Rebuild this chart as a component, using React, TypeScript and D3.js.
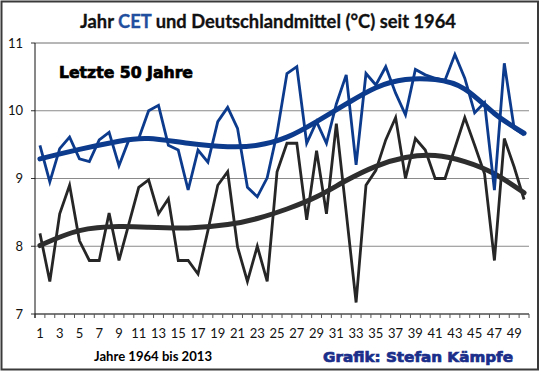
import React from "react";
import * as d3 from "d3";

// Jahre 1964 bis 2013 als laufende Nummer 1..50
const years = [
  1, 2, 3, 4, 5, 6, 7, 8, 9, 10, 11, 12, 13, 14, 15, 16, 17, 18, 19, 20, 21, 22, 23, 24, 25,
  26, 27, 28, 29, 30, 31, 32, 33, 34, 35, 36, 37, 38, 39, 40, 41, 42, 43, 44, 45, 46, 47, 48, 49, 50,
];

// Jahresmittel CET (°C)
const cet = [
  9.49, 8.95, 9.44, 9.61, 9.29, 9.25, 9.57, 9.68, 9.19, 9.57, 9.59, 10.0, 10.08, 9.49, 9.42,
  8.83, 9.42, 9.24, 9.84, 10.05, 9.74, 8.87, 8.73, 9.01, 9.67, 10.55, 10.65, 9.52, 9.84, 9.52,
  10.1, 10.53, 9.2, 10.55, 10.38, 10.65, 10.26, 9.94, 10.61, 10.53, 10.48, 10.45, 10.83, 10.48,
  9.97, 10.12, 8.83, 10.7, 9.74, 9.64,
];

// Jahresmittel Deutschland (°C)
const germany = [
  8.19, 7.48, 8.48, 8.9, 8.08, 7.79, 7.79, 8.49, 7.79, 8.33, 8.87, 8.98, 8.48, 8.7, 7.79, 7.79,
  7.59, 8.23, 8.9, 9.1, 7.99, 7.48, 8.0, 7.48, 9.1, 9.52, 9.52, 8.39, 9.41, 8.48, 9.81, 8.5, 7.17,
  8.9, 9.12, 9.57, 9.9, 9.0, 9.59, 9.42, 9.0, 9.0, 9.45, 9.9, 9.49, 9.07, 7.79, 9.59, 9.17, 8.69,
];

const trendYears = [1, 5, 9, 12, 16, 20, 23, 26, 29, 32, 35, 38, 41, 44, 47, 50];
const cetTrend = [9.29, 9.43, 9.55, 9.59, 9.52, 9.47, 9.49, 9.61, 9.84, 10.1, 10.34, 10.46, 10.46, 10.32, 9.96, 9.67];
const germanyTrend = [8.01, 8.23, 8.29, 8.28, 8.27, 8.32, 8.41, 8.55, 8.73, 8.97, 9.18, 9.31, 9.34, 9.25, 9.07, 8.79];

const yTicks = [7, 8, 9, 10, 11];
const xLabels = [1, 3, 5, 7, 9, 11, 13, 15, 17, 19, 21, 23, 25, 27, 29, 31, 33, 35, 37, 39, 41, 43, 45, 47, 49];

const blue = "#0c3a8c";
const dark = "#262626";

export default function App() {
  const width = 540;
  const height = 371;
  const left = 35;
  const right = 529;

  const x = d3.scaleBand<number>().domain(years).range([left, right]);
  const cx = (d: number) => (x(d) as number) + x.bandwidth() / 2;
  const xTrend = d3.scaleLinear().domain([1, 50]).range([cx(1), cx(50)]);
  const y = d3.scaleLinear().domain([7, 11]).range([314, 43]);

  const dataLine = d3
    .line<number>()
    .x((d, i) => cx(years[i]))
    .y((d) => y(d));
  const trendLine = d3
    .line<number>()
    .x((d, i) => xTrend(trendYears[i]))
    .y((d) => y(d))
    .curve(d3.curveNatural);

  const boundaries = years.map((d) => x(d) as number).concat([right]);

  return (
    <svg
      width={width}
      height={height}
      style={{ position: "absolute", left: 0, top: 0, display: "block" }}
    >
      <rect x={0} y={0} width={width} height={height} fill="#fff" />
      <rect x={1.5} y={1.5} width={width - 3.5} height={height - 3} fill="none" stroke="#3a3a3a" strokeWidth={2} />

      <text x={268} y={28} textAnchor="middle" fontFamily="Lato, sans-serif" fontWeight="bold" fontSize={18.5} textLength={376} lengthAdjust="spacingAndGlyphs" fill="#111" stroke="#111" strokeWidth={0.3}>
        Jahr <tspan fill="#1f4f9e" stroke="#1f4f9e">CET</tspan> und Deutschlandmittel (°C) seit 1964
      </text>

      {yTicks.slice(1).map((t) => (
        <line key={"g" + t} x1={left} x2={right} y1={y(t)} y2={y(t)} stroke={t === 11 ? "#6e6e6e" : "#8a8a8a"} strokeWidth={1} />
      ))}
      {yTicks.map((t) => (
        <g key={"y" + t}>
          <line x1={left - 4} x2={left} y1={y(t)} y2={y(t)} stroke="#333" />
          <text x={23} y={y(t) + 4.5} textAnchor="end" fontFamily="Lato, sans-serif" fontSize={13} fill="#111">
            {t}
          </text>
        </g>
      ))}

      <line x1={left} x2={right} y1={y(7)} y2={y(7)} stroke="#7a7a7a" strokeWidth={2} />
      {boundaries.map((b, i) => (
        <line key={"t" + i} x1={b} x2={b} y1={y(7)} y2={y(7) + 4} stroke="#555" strokeWidth={1} />
      ))}
      <line x1={left} x2={left} y1={y(11)} y2={y(7) + 4} stroke="#111" strokeWidth={1} />

      {xLabels.map((d) => (
        <text key={"x" + d} x={cx(d)} y={338} textAnchor="middle" fontFamily="Lato, sans-serif" fontSize={13} fill="#111">
          {d}
        </text>
      ))}

      <path d={dataLine(germany) || ""} fill="none" stroke={dark} strokeWidth={2.8} strokeLinejoin="miter" />
      <path d={trendLine(germanyTrend) || ""} fill="none" stroke="#2e2e2e" strokeWidth={5} strokeLinecap="round" />
      <path d={dataLine(cet) || ""} fill="none" stroke={blue} strokeWidth={2.8} strokeLinejoin="miter" />
      <path d={trendLine(cetTrend) || ""} fill="none" stroke={blue} strokeWidth={5} strokeLinecap="round" />

      <text x={59} y={78} fontFamily="DejaVu Sans, sans-serif" fontWeight="bold" fontSize={15} textLength={134} lengthAdjust="spacingAndGlyphs" fill="#000" stroke="#000" strokeWidth={0.7}>
        Letzte 50 Jahre
      </text>

      <text x={94} y={361} fontFamily="Lato, sans-serif" fontWeight="bold" fontSize={12.5} textLength={118} lengthAdjust="spacingAndGlyphs" fill="#000">
        Jahre 1964 bis 2013
      </text>
      <text x={323} y={362} fontFamily="DejaVu Sans, sans-serif" fontWeight="bold" fontSize={14.5} textLength={190} lengthAdjust="spacingAndGlyphs" fill="#1a2e8a" stroke="#1a2e8a" strokeWidth={0.7}>
        Grafik: Stefan Kämpfe
      </text>
    </svg>
  );
}
